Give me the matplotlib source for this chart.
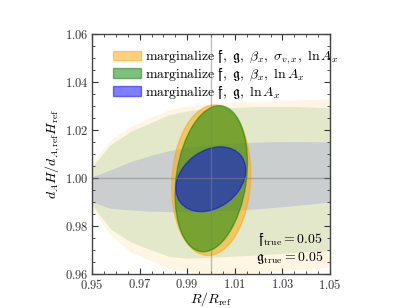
import numpy as np
import matplotlib
matplotlib.use("Agg")
import matplotlib.pyplot as plt
from matplotlib.patches import Ellipse
from matplotlib.ticker import MultipleLocator, FormatStrFormatter

plt.rcParams["font.family"] = "serif"
plt.rcParams["font.serif"] = ["cmr10", "DejaVu Serif"]
plt.rcParams["mathtext.fontset"] = "cm"
plt.rcParams["axes.formatter.use_mathtext"] = True
plt.rcParams["axes.unicode_minus"] = False

# bright (Fisher) ellipses: orange, green, blue
ell_labels = [
    r"$\mathrm{marginalize}\ \mathfrak{f},\ \mathfrak{g},\ \beta_x,\ \sigma_{v,x},\ \ln A_x$",
    r"$\mathrm{marginalize}\ \mathfrak{f},\ \mathfrak{g},\ \beta_x,\ \ln A_x$",
    r"$\mathrm{marginalize}\ \mathfrak{f},\ \mathfrak{g},\ \ln A_x$",
]
ell_colors = ["orange", "green", "blue"]
ell_x0 = [1.0001, 1.0001, 0.9999]
ell_y0 = [0.9991, 0.9997, 0.9995]
ell_sx = [0.0166, 0.0152, 0.0147]
ell_sy = [0.0313, 0.0304, 0.0135]
ell_rho = [0.08, 0.22, 0.28]

# faint background contours, upper/lower edges read at these x
bg_x = [0.95, 0.9576, 0.966, 0.975, 0.982, 0.99, 1.0, 1.02, 1.035, 1.05]
bg_orange_hi = [1.0061, 1.0158, 1.0214, 1.0255, 1.0283, 1.0300, 1.0310, 1.0320, 1.0325, 1.0330]
bg_orange_lo = [0.9874, 0.9763, 0.9693, 0.9655, 0.9625, 0.9610, 0.9603, 0.9608, 0.9618, 0.9630]
bg_green_hi = [1.0047, 1.0138, 1.0193, 1.0232, 1.0262, 1.0280, 1.0290, 1.0298, 1.0298, 1.0292]
bg_green_lo = [0.9888, 0.9790, 0.9735, 0.9700, 0.9675, 0.9666, 0.9670, 0.9680, 0.9690, 0.9697]
bg_blue_hi = [1.0005, 1.0033, 1.0068, 1.0095, 1.0113, 1.0128, 1.0140, 1.0150, 1.0152, 1.0150]
bg_blue_lo = [0.9901, 0.9874, 0.9867, 0.9862, 0.9860, 0.9860, 0.9862, 0.9872, 0.9885, 0.9900]

f_true = 0.05
g_true = 0.05

fig = plt.figure(figsize=(4.11, 3.08), dpi=100)
ax = fig.add_axes([0.224, 0.110, 0.579, 0.780])

# background shapes
for hi, lo, c in [(bg_orange_hi, bg_orange_lo, "orange"),
                  (bg_green_hi, bg_green_lo, "green"),
                  (bg_blue_hi, bg_blue_lo, "blue")]:
    ax.fill_between(bg_x, lo, hi, color=c, alpha=0.11, lw=0)

# ellipses from covariance
for x0, y0, sx, sy, r, c, lab in zip(ell_x0, ell_y0, ell_sx, ell_sy, ell_rho, ell_colors, ell_labels):
    cov = np.array([[sx**2, r * sx * sy], [r * sx * sy, sy**2]])
    vals, vecs = np.linalg.eigh(cov)
    ang = np.degrees(np.arctan2(vecs[1, 1], vecs[0, 1]))
    e = Ellipse((x0, y0), 2 * np.sqrt(vals[1]), 2 * np.sqrt(vals[0]), angle=ang,
                facecolor=c, edgecolor=c, alpha=0.5, lw=1.0, label=lab)
    ax.add_patch(e)

ax.axvline(1.0, color="gray", alpha=0.5, lw=1)
ax.axhline(1.0, color="gray", alpha=0.5, lw=1)

ax.set_xlim(0.95, 1.05)
ax.set_ylim(0.96, 1.06)
ax.xaxis.set_minor_locator(MultipleLocator(0.005))
ax.yaxis.set_major_locator(MultipleLocator(0.02))
ax.yaxis.set_minor_locator(MultipleLocator(0.005))
ax.set_xticks([0.95, 0.97, 0.99, 1.01, 1.03, 1.05])
ax.xaxis.set_major_formatter(FormatStrFormatter("$%.2f$"))
ax.yaxis.set_major_formatter(FormatStrFormatter("$%.2f$"))
ax.tick_params(which="both", direction="in", top=True, right=True, labelsize=9, colors="#333333", pad=2.5)
ax.tick_params(which="major", length=4, width=0.8)
ax.tick_params(which="minor", length=2, width=0.6)
for s in ax.spines.values():
    s.set_color("#444444")
    s.set_linewidth(1.0)

ax.set_xlabel(r"$R/R_{\rm ref}$", fontsize=10, labelpad=-1)
ax.set_ylabel(r"$d_A H/d_{A,{\rm ref}} H_{\rm ref}$", fontsize=10, labelpad=2)

ax.text(1.047, 0.9745, r"$\mathfrak{f}_{\rm true} = %.2f$" % f_true, ha="right", va="center", fontsize=10)
ax.text(1.047, 0.9668, r"$\mathfrak{g}_{\rm true} = %.2f$" % g_true, ha="right", va="center", fontsize=10)

ax.legend(loc="upper left", bbox_to_anchor=(0.065, 0.962), frameon=False, fontsize=9.9,
          handlelength=2.0, handletextpad=0.35, borderaxespad=0.0, labelspacing=0.05)

fig.savefig("out.png", dpi=100)
